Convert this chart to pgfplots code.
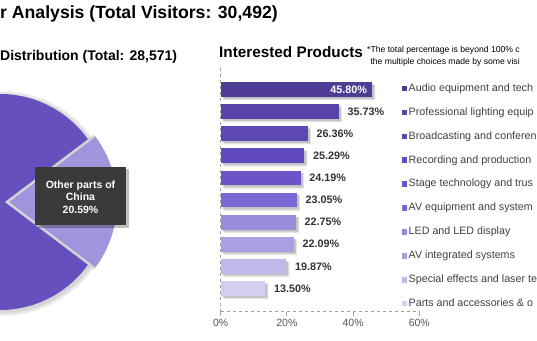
\documentclass[border=0pt]{standalone}
\usepackage{fontspec}
\setmainfont{Liberation Sans}
\usepackage{pgfplots}
\pgfplotsset{compat=1.18}
\definecolor{cA}{HTML}{4E3C95}
\definecolor{cB}{HTML}{5843A8}
\definecolor{cC}{HTML}{5D47B5}
\definecolor{cD}{HTML}{614ABD}
\definecolor{cE}{HTML}{6A54C7}
\definecolor{cF}{HTML}{7C68D5}
\definecolor{cG}{HTML}{988CDB}
\definecolor{cH}{HTML}{AA9FE1}
\definecolor{cI}{HTML}{C1B8EA}
\definecolor{cJ}{HTML}{D4CEF1}
\definecolor{pieDark}{HTML}{6750BE}
\definecolor{pieLight}{HTML}{A095DC}
\definecolor{pieBorder}{HTML}{D2D2D2}
\definecolor{tipBg}{HTML}{3A3A3A}
\definecolor{axisGray}{HTML}{A0A0A0}
\definecolor{tickText}{HTML}{555555}
\definecolor{valText}{HTML}{333333}
\definecolor{legText}{HTML}{404040}
\pgfplotsset{
  mybar/.style={xbar, bar shift=0pt, bar width=14.7pt, draw=none, fill=#1},
}
\begin{document}
\begin{tikzpicture}[x=1pt,y=1pt]
\useasboundingbox (0,0) rectangle (537,340);
% headings
\node[anchor=base west, inner sep=0pt, font=\bfseries\fontsize{17.65}{20}\selectfont] at (0,321.7) {r Analysis (Total Visitors: 30,492)};
\node[anchor=base west, inner sep=0pt, font=\bfseries\fontsize{14}{17}\selectfont] at (0,279) {Distribution (Total: 28,571)};
\node[anchor=base west, inner sep=0pt, font=\bfseries\fontsize{15.3}{18}\selectfont] at (219,282) {Interested Products};
\node[anchor=north west, inner sep=0pt, align=left, font=\fontsize{8.6}{11.3}\selectfont] at (367,293.5) {*The total percentage is beyond 100\% c\\\hphantom{*}the multiple choices made by some visi};
% pie (Other parts of China = 20.59%)
\foreach \k in {1,...,5}{
  \fill[black, opacity=0.035] (1.5,136.5) circle ({108+\k});
}
\fill[pieDark] (0,138) circle (108);
\fill[pieLight] (7,138) -- ({7+110*cos(20.59*1.8)},{138-110*sin(20.59*1.8)}) arc ({-20.59*1.8}:{20.59*1.8}:110) -- cycle;
\draw[pieBorder, line width=2.5pt, line join=miter] ({7+110*cos(20.59*1.8)},{138-110*sin(20.59*1.8)}) -- (7,138) -- ({7+110*cos(20.59*1.8)},{138+110*sin(20.59*1.8)});
% tooltip
\fill[black, opacity=0.25] (37.5,112.5) rectangle (128.5,170.5);
\fill[tipBg] (35,115) rectangle (126,173);
\node[align=center, text=white, font=\bfseries\fontsize{10.5}{12.5}\selectfont, inner sep=0pt] at (80.5,143) {Other parts of\\China\\20.59\%};
% bar chart
\begin{axis}[
  at={(220.7pt,28.5pt)}, anchor=south west,
  scale only axis, width=198.6pt, height=243pt,
  xmin=0, xmax=60, ymin=-1.04, ymax=9.95,
  clip=false,
  axis x line*=bottom, axis y line*=left,
  axis line style={draw=axisGray, dashed, line width=1pt, -},
  xtick={0,20,40,60}, xticklabels={0\%,20\%,40\%,60\%},
  ytick=\empty,
  tick align=outside, major tick length=4pt,
  xtick style={draw=axisGray, solid, line width=1pt},
  xticklabel style={font=\fontsize{10.5}{12}\selectfont, text=tickText},
  /pgf/number format/assume math mode=true,
  point meta=x,
  legend style={at={(axis description cs:0.911,0.937)}, anchor=north west, draw=none, fill=none,
    inner sep=0pt, outer sep=0pt, row sep=14.4pt, column sep=1.5pt,
    font=\fontsize{10.7}{12}\selectfont, text=legText,
    nodes={inner sep=0pt, text height=7.5pt, text depth=2pt}},
  legend cell align=left,
  legend image code/.code={\fill[#1, draw=none] (0pt,-2.8pt) rectangle (5.6pt,2.8pt);},
  nodes near coords={\pgfmathprintnumber[fixed,fixed zerofill,precision=2]{\pgfplotspointmeta}\%},
  nodes near coords align={horizontal},
  every node near coord/.append style={inner sep=0pt, xshift=8.5pt, font=\bfseries\fontsize{10.8}{12}\selectfont, text=valText},
]
% shadows
\addplot[xbar, bar shift=0pt, bar width=15.5pt, draw=none, fill=black, opacity=0.10, xshift=3pt, yshift=-3pt, forget plot, nodes near coords={}] coordinates {(45.80,9) (35.73,8) (26.36,7) (25.29,6) (24.19,5) (23.05,4) (22.75,3) (22.09,2) (19.87,1) (13.50,0)};
\addplot[xbar, bar shift=0pt, bar width=14.7pt, draw=none, fill=black, opacity=0.15, xshift=2pt, yshift=-2pt, forget plot, nodes near coords={}] coordinates {(45.80,9) (35.73,8) (26.36,7) (25.29,6) (24.19,5) (23.05,4) (22.75,3) (22.09,2) (19.87,1) (13.50,0)};
% bars
\addplot[mybar=cA, nodes near coords={}] coordinates {(45.80,9)};
\addlegendentry{Audio equipment and tech}
\addplot[mybar=cB] coordinates {(35.73,8)};
\addlegendentry{Professional lighting equip}
\addplot[mybar=cC] coordinates {(26.36,7)};
\addlegendentry{Broadcasting and conferen}
\addplot[mybar=cD] coordinates {(25.29,6)};
\addlegendentry{Recording and production}
\addplot[mybar=cE] coordinates {(24.19,5)};
\addlegendentry{Stage technology and trus}
\addplot[mybar=cF] coordinates {(23.05,4)};
\addlegendentry{AV equipment and system}
\addplot[mybar=cG] coordinates {(22.75,3)};
\addlegendentry{LED and LED display}
\addplot[mybar=cH] coordinates {(22.09,2)};
\addlegendentry{AV integrated systems}
\addplot[mybar=cI] coordinates {(19.87,1)};
\addlegendentry{Special effects and laser te}
\addplot[mybar=cJ] coordinates {(13.50,0)};
\addlegendentry{Parts and accessories \& o}
\node[anchor=east, inner sep=0pt, text=white, font=\bfseries\fontsize{10.8}{12}\selectfont] at (axis cs:45.80,9) [xshift=-5pt] {45.80\%};
\end{axis}
\end{tikzpicture}
\end{document}
